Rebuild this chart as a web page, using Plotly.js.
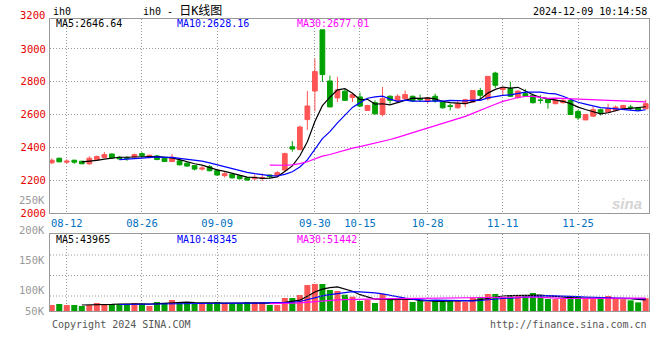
<!DOCTYPE html>
<html><head><meta charset="utf-8">
<script src="https://cdn.plot.ly/plotly-3.0.1.min.js"></script>
<style>html,body{margin:0;padding:0;background:#fff}#chart{width:660px;height:360px}</style>
</head><body><div id="chart"></div>
<script>
const dates = ['08-08','08-09','08-12','08-13','08-14','08-15','08-16','08-19','08-20','08-21','08-22','08-23','08-26','08-27','08-28','08-29','08-30',
'09-02','09-03','09-04','09-05','09-06','09-09','09-10','09-11','09-12','09-13','09-18','09-19','09-20','09-23','09-24','09-25','09-26','09-27','09-30',
'10-08','10-09','10-10','10-11','10-14','10-15','10-16','10-17','10-18','10-21','10-22','10-23','10-24','10-25','10-28','10-29','10-30','10-31',
'11-01','11-04','11-05','11-06','11-07','11-08','11-11','11-12','11-13','11-14','11-15','11-18','11-19','11-20','11-21','11-22','11-25','11-26','11-27','11-28','11-29',
'12-02','12-03','12-04','12-05','12-06'];
const open = [2307,2335,2311,2323,2317,2301,2327,2339,2361,2341,
2337,2343,2363,2339,2349,2335,2315,2319,2305,2290,
2269,2283,2261,2229,2237,2229,2216,2210,2212,2233,
2229,2263,2405,2387,2570,2744,3116,2805,2702,2743,
2704,2708,2626,2673,2601,2712,2683,2697,2712,2695,
2683,2712,2677,2654,2642,2667,2677,2747,2697,2853,
2753,2759,2704,2728,2718,2689,2693,2667,2673,2687,
2620,2568,2591,2630,2615,2626,2636,2646,2642,2636];
const high = [2333,2338,2329,2325,2318,2347,2351,2373,2363,2347,
2347,2363,2371,2357,2355,2337,2361,2323,2309,2294,
2287,2294,2265,2251,2243,2233,2220,2235,2243,2235,
2257,2369,2440,2533,2744,2941,3116,2838,2830,2755,
2728,2734,2660,2687,2769,2718,2724,2747,2716,2722,
2708,2728,2687,2667,2687,2697,2747,2763,2833,2861,
2769,2800,2749,2755,2728,2718,2697,2697,2697,2697,
2630,2605,2652,2636,2667,2656,2660,2660,2646,2691];
const low = [2299,2311,2301,2301,2300,2295,2323,2337,2333,2327,
2319,2335,2341,2335,2323,2313,2311,2291,2283,2261,
2259,2255,2229,2218,2210,2206,2198,2200,2196,2212,
2224,2253,2375,2385,2507,2620,2799,2647,2677,2683,
2677,2646,2624,2601,2589,2667,2677,2687,2677,2677,
2667,2673,2636,2626,2636,2646,2673,2697,2687,2763,
2718,2708,2697,2708,2667,2667,2636,2663,2667,2601,
2568,2568,2585,2595,2611,2620,2632,2626,2624,2636];
const close = [2323,2313,2317,2311,2301,2335,2345,2357,2337,2331,
2335,2357,2351,2353,2327,2315,2341,2295,2287,2269,
2275,2259,2233,2241,2216,2210,2202,2220,2216,2224,
2247,2363,2391,2525,2653,2862,2844,2647,2750,2687,
2722,2652,2656,2605,2697,2687,2712,2722,2683,2692,
2702,2683,2642,2650,2667,2691,2747,2718,2833,2779,
2765,2712,2743,2712,2673,2687,2673,2687,2687,2601,
2581,2601,2630,2611,2636,2646,2656,2644,2628,2667];
const volume = [23700,27600,23500,23900,19800,23700,31600,27700,27500,27800,
27600,31500,27700,19900,35500,31600,43400,31500,31700,27600,
27700,31600,35600,31500,27600,27700,35500,35600,35400,23700,
23600,51300,51400,63200,102700,106600,106700,82900,79000,64400,
56500,39500,43400,31600,67100,43500,43400,43500,35500,39500,
35600,43400,35500,43500,39500,35500,51300,55300,67200,67100,
55300,59200,59300,59200,71100,63200,47400,47300,47500,55300,
55200,47400,47300,47500,59200,47000,46000,42000,34000,50800];

const xTickDates = ['08-12','08-26','09-09','09-30','10-15','10-28','11-11','11-25'];
const priceLegend = ['MA5:2646.64','MA10:2628.16','MA30:2677.01'];
const volLegend = ['MA5:43965','MA10:48345','MA30:51442'];
const maPeriods = [5,10,30];
const maColors = ['#000000','#0000ff','#ff00ff'];
const volTickLabels = ['250K','200K','150K','100K','50K'];
const topPriceLabel = '3200';
const headerSymbol = 'ih0';
const headerTitle = 'ih0 - ';
const headerTitleCJK = '日K线图';
const timeStamp = '2024-12-09 10:14:58';
const footLeft = 'Copyright 2024 SINA.COM';
const footRight = 'http://finance.sina.com.cn';

function movingAvg(arr, n){
  return arr.map((v,i)=>{ if(i<n-1) return null; let s=0; for(let k=i-n+1;k<=i;k++) s+=arr[k]; return s/n; });
}

const RED='#ff5555', GREEN='#00a000';
const MONO='DejaVu Sans Mono, Liberation Mono, monospace';
const W=660,H=360;
const px=x=>x/W, py=y=>1-y/H;

const traces=[];
traces.push({type:'candlestick', x:dates, open:open, high:high, low:low, close:close,
  xaxis:'x', yaxis:'y', whiskerwidth:0,
  increasing:{line:{color:RED,width:1},fillcolor:RED},
  decreasing:{line:{color:GREEN,width:1},fillcolor:GREEN},
  hoverinfo:'skip', showlegend:false});
maPeriods.forEach((n,j)=>{
  traces.push({type:'scatter',mode:'lines',x:dates,y:movingAvg(close,n),xaxis:'x',yaxis:'y',
    line:{color:maColors[j],width:1.2},hoverinfo:'skip',showlegend:false,connectgaps:false});
});
traces.push({type:'bar',x:dates,y:volume,xaxis:'x2',yaxis:'y2',
  marker:{color:close.map((c,i)=>c>=open[i]?RED:GREEN),line:{width:0}},hoverinfo:'skip',showlegend:false});
maPeriods.forEach((n,j)=>{
  traces.push({type:'scatter',mode:'lines',x:dates,y:movingAvg(volume,n),xaxis:'x2',yaxis:'y2',
    line:{color:maColors[j],width:1.2},hoverinfo:'skip',showlegend:false});
});

const xdom=[px(50),px(649)];
const gridCommon={showgrid:true,gridcolor:'#999',griddash:'1px,2px',gridwidth:1,zeroline:false,
  showline:true,mirror:true,linecolor:'#999',linewidth:1};
const xRange=[-0.23,79.44];

const annotations=[];
function addText(text,x,y,xanchor,color,size,extra){
  annotations.push(Object.assign({text:text,xref:'paper',yref:'paper',x:px(x),y:py(y),xanchor:xanchor,yanchor:'middle',
    showarrow:false,font:{family:MONO,size:size||10,color:color||'#000'}},extra||{}));
}
addText(headerSymbol,51,12,'left','#000',10);
addText(headerTitle+'<span style="font-size:12px">'+headerTitleCJK+'</span>',141,10.5,'left','#000',10,
  {font:{family:'DejaVu Sans Mono, Noto Sans CJK SC',size:10,color:'#000'}});
addText(timeStamp,649,12,'right','#000',10);
addText(topPriceLabel,47,15,'right','#e60000',10.5);
addText(volTickLabels[0],47,200,'right','#999',10.5);
const legX=[54,174.5,295];
priceLegend.forEach((t,j)=>addText(t,legX[j],23.5,'left',maColors[j],10));
volLegend.forEach((t,j)=>addText(t,legX[j],239,'left',maColors[j],10));
const volLabY=[230,260,290,311];
volTickLabels.slice(1).forEach((t,j)=>addText(t,47,volLabY[j],'right','#999',10.5));
addText(footLeft,50,324,'left','#555',10);
addText(footRight,649,324,'right','#555',10);
addText('<b><i>sina</i></b>',627,203,'center','#d4d4d4',15,{font:{family:'Liberation Sans, Arial',size:15,color:'#d4d4d4'}});

const shapes=[];
[255,275.5,296].forEach(y=>shapes.push({type:'line',xref:'paper',yref:'paper',x0:xdom[0],x1:xdom[1],y0:py(y),y1:py(y),
  line:{color:'#999',width:1,dash:'1px,2px'}}));

const layout={
  width:W,height:H,margin:{l:0,r:0,t:0,b:0},paper_bgcolor:'#fff',plot_bgcolor:'#fff',
  showlegend:false,boxgap:0.1,bargap:0.2,
  xaxis:Object.assign({},gridCommon,{domain:xdom,anchor:'y',type:'category',range:xRange,
    tickmode:'array',tickvals:xTickDates,ticktext:xTickDates,ticks:'',
    tickfont:{family:MONO,size:10.5,color:'#0070c0'},rangeslider:{visible:false},fixedrange:true}),
  yaxis:Object.assign({},gridCommon,{domain:[py(213.3),py(19)],anchor:'x',range:[2000,3182],
    tick0:2000,dtick:200,ticks:'',ticklabelstandoff:1,tickfont:{family:MONO,size:10.5,color:'#e60000'},fixedrange:true}),
  xaxis2:Object.assign({},gridCommon,{domain:xdom,anchor:'y2',type:'category',range:xRange,matches:'x',
    tickmode:'array',tickvals:xTickDates,showticklabels:false,ticks:'',rangeslider:{visible:false}}),
  yaxis2:Object.assign({},gridCommon,{domain:[py(311),py(234)],anchor:'x2',range:[0,304150],
    showgrid:false,showticklabels:false,ticks:''}),
  annotations:annotations,shapes:shapes
};
Plotly.newPlot('chart',traces,layout,{staticPlot:true,displayModeBar:false});
</script></body></html>
